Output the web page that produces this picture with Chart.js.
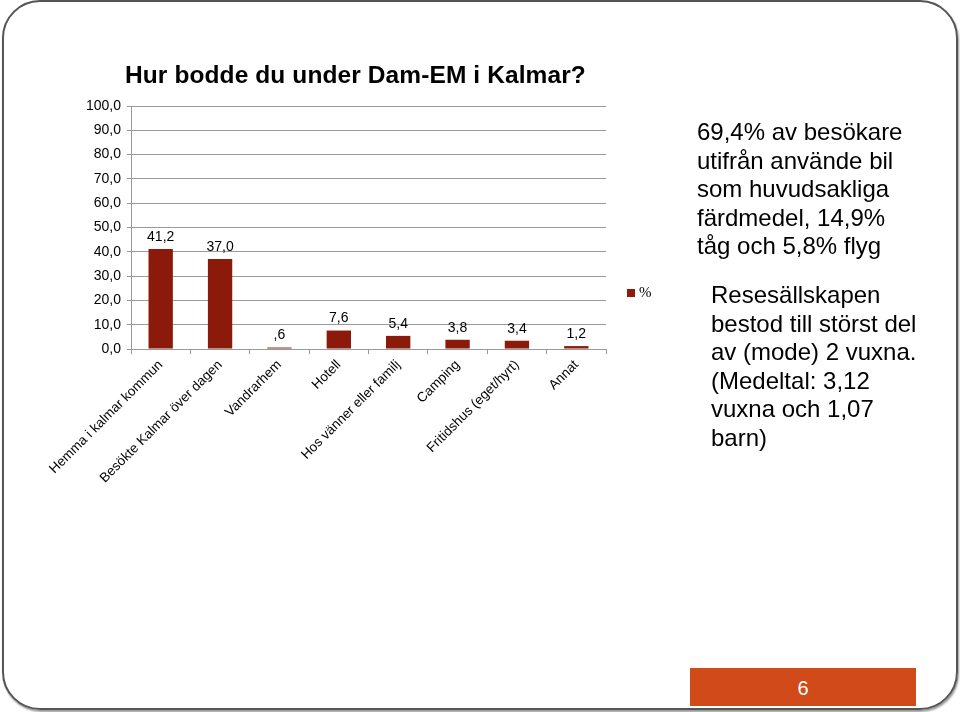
<!DOCTYPE html>
<html>
<head>
<meta charset="utf-8">
<script src="https://cdn.jsdelivr.net/npm/chart.js@4.4.0/dist/chart.umd.min.js"></script>
<style>
  html, body { margin: 0; padding: 0; background: #fff; }
  #slide { position: relative; width: 960px; height: 712px; overflow: hidden; font-family: "Liberation Sans", Arial, sans-serif; }
  #frame { position: absolute; left: 2px; top: 0px; width: 952px; height: 706px; border: 2px solid #555; border-radius: 38px; box-shadow: 1px 2px 2px #999; }
  #chartWrap { position: absolute; left: 0; top: 0; width: 960px; height: 712px; }
  #title { position: absolute; left: 125px; top: 61px; font-size: 24.5px; font-weight: bold; color: #000; white-space: nowrap; letter-spacing: 0.1px; }
  #legend { position: absolute; left: 627px; top: 284px; font-family: "Liberation Serif", serif; font-size: 15px; color: #000; }
  #legend span { display: inline-block; width: 8px; height: 8px; background: #8f1a0c; margin-right: 4px; }
  .txt { position: absolute; font-size: 24px; line-height: 28.6px; color: #000; }
  #pageBox { position: absolute; left: 690px; top: 668px; width: 226px; height: 38px; background: #d04a1a; color: #fff; font-size: 20px; text-align: center; line-height: 40px; }
</style>
</head>
<body>
<div id="slide">
  <div id="frame"></div>
  <div id="chartWrap"><canvas id="myChart" width="960" height="712"></canvas></div>
  <div id="title">Hur bodde du under Dam-EM i Kalmar?</div>
  <div id="legend"><span></span>%</div>
  <div class="txt" style="left:697px; top:118px;">69,4% av besökare<br>utifrån använde bil<br>som huvudsakliga<br>färdmedel, 14,9%<br>tåg och 5,8% flyg</div>
  <div class="txt" style="left:711px; top:281px;">Resesällskapen<br>bestod till störst del<br>av (mode) 2 vuxna.<br>(Medeltal: 3,12<br>vuxna och 1,07<br>barn)</div>
  <div id="pageBox">6</div>
</div>
<script>
// Data
var categories = ['Hemma i kalmar kommun', 'Besökte Kalmar över dagen', 'Vandrarhem', 'Hotell',
  'Hos vänner eller familj', 'Camping', 'Fritidshus (eget/hyrt)', 'Annat'];
var percentValues = [41.2, 37.0, 0.6, 7.6, 5.4, 3.8, 3.4, 1.2];
var yTicks = [0, 10, 20, 30, 40, 50, 60, 70, 80, 90, 100];

function fmt(v) {
  var s = v.toFixed(1).replace('.', ',');
  if (s.indexOf('0,') === 0) s = s.substring(1); // ",6" som i Excel
  return s;
}

// etiketter ovanför staplarna
var valueLabels = {
  id: 'valueLabels',
  afterDatasetsDraw: function(chart) {
    var ctx = chart.ctx;
    var meta = chart.getDatasetMeta(0);
    ctx.save();
    ctx.font = '14px "Liberation Sans", Arial, sans-serif';
    ctx.fillStyle = '#000';
    ctx.textAlign = 'center';
    ctx.textBaseline = 'bottom';
    meta.data.forEach(function(bar, i) {
      ctx.fillText(fmt(percentValues[i]), bar.x, bar.y - 5);
    });
    ctx.restore();
  }
};

var ctx = document.getElementById('myChart').getContext('2d');
var myChart = new Chart(ctx, {
  type: 'bar',
  data: {
    labels: categories,
    datasets: [{
      label: '%',
      data: percentValues,
      backgroundColor: '#8c1a0b',
      borderWidth: 0,
      categoryPercentage: 1.0,
      barPercentage: 0.41
    }]
  },
  options: {
    responsive: false,
    animation: false,
    layout: { padding: { left: 81, top: 106, right: 354, bottom: 223 } },
    plugins: {
      legend: { display: false },
      tooltip: { enabled: false },
      title: { display: false }
    },
    scales: {
      x: {
        grid: { display: true, drawOnChartArea: false, offset: true, color: '#999', tickLength: 5 },
        border: { color: '#999' },
        ticks: {
          minRotation: 45, maxRotation: 45, autoSkip: false,
          color: '#000',
          font: { family: '"Liberation Sans", Arial, sans-serif', size: 13.5 }
        },
        afterFit: function(s) { s.height = 140; }
      },
      y: {
        min: 0, max: 100,
        afterBuildTicks: function(s) { s.ticks = yTicks.map(function(v) { return { value: v }; }); },
        grid: { color: '#9a9a9a', tickLength: 4 },
        border: { color: '#999' },
        ticks: {
          color: '#000',
          padding: 6,
          font: { family: '"Liberation Sans", Arial, sans-serif', size: 14 },
          callback: function(v) { return v.toFixed(1).replace('.', ','); }
        },
        afterFit: function(s) { s.width = 50; }
      }
    }
  },
  plugins: [valueLabels]
});
</script>
</body>
</html>
